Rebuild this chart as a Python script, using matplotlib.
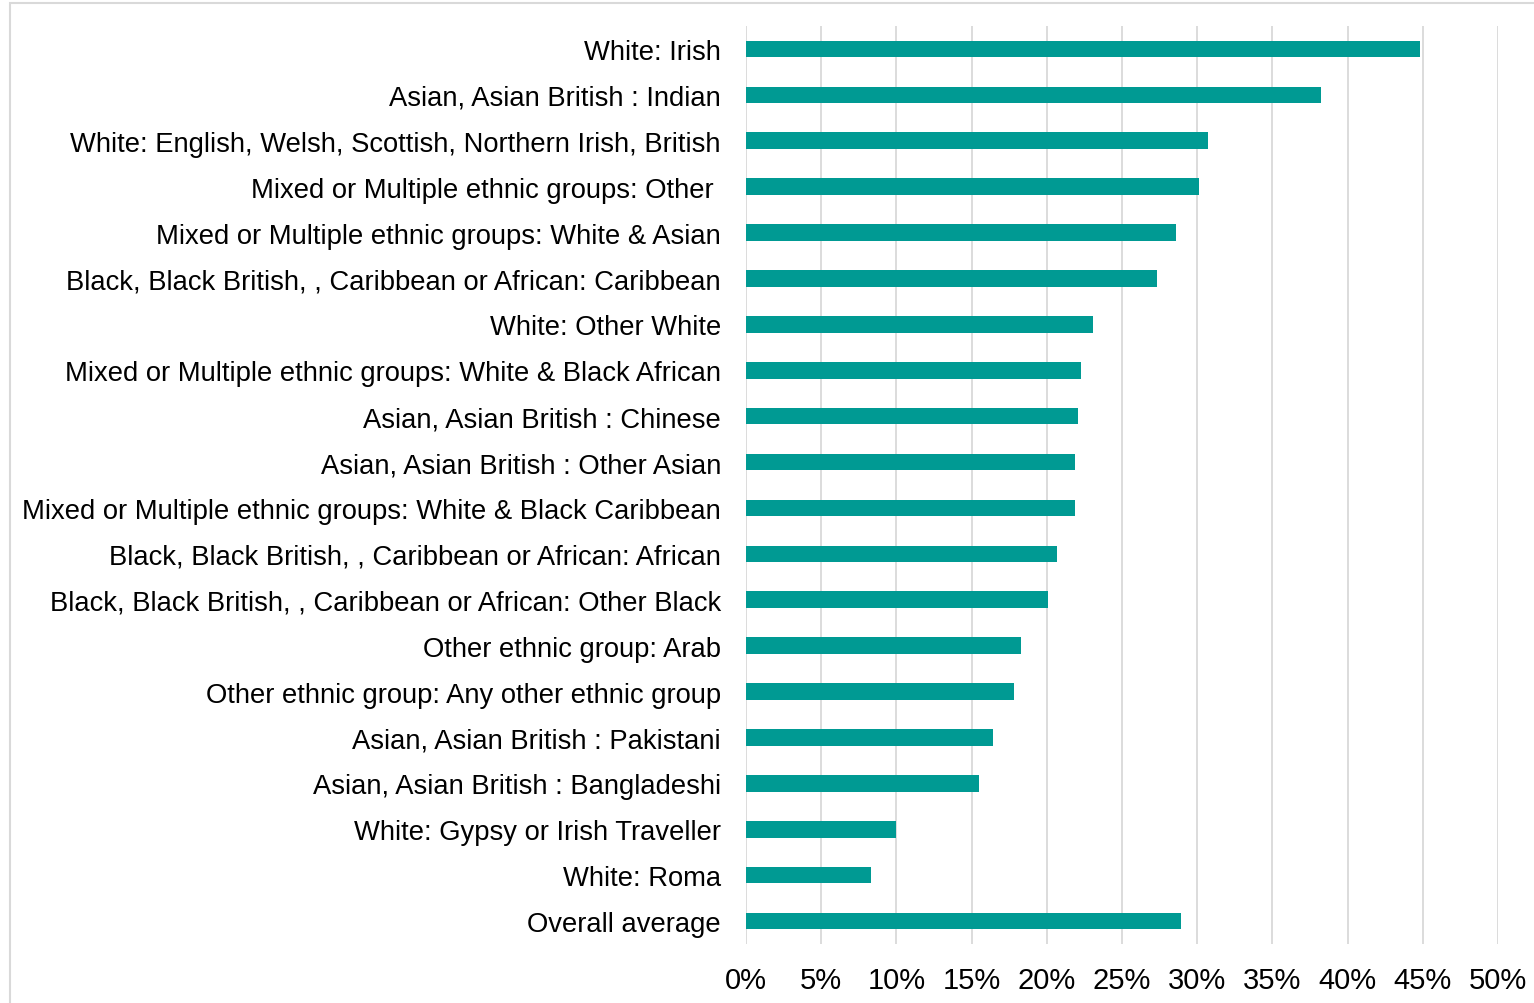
import matplotlib
matplotlib.use("Agg")
import matplotlib.pyplot as plt
from matplotlib.patches import Rectangle
from matplotlib.ticker import FuncFormatter, MultipleLocator

plt.rcParams['font.family'] = ['Liberation Sans', 'DejaVu Sans']

categories = [
    "White: Irish",
    "Asian, Asian British : Indian",
    "White: English, Welsh, Scottish, Northern Irish, British",
    "Mixed or Multiple ethnic groups: Other ",
    "Mixed or Multiple ethnic groups: White & Asian",
    "Black, Black British, , Caribbean or African: Caribbean",
    "White: Other White",
    "Mixed or Multiple ethnic groups: White & Black African",
    "Asian, Asian British : Chinese",
    "Asian, Asian British : Other Asian",
    "Mixed or Multiple ethnic groups: White & Black Caribbean",
    "Black, Black British, , Caribbean or African: African",
    "Black, Black British, , Caribbean or African: Other Black",
    "Other ethnic group: Arab",
    "Other ethnic group: Any other ethnic group",
    "Asian, Asian British : Pakistani",
    "Asian, Asian British : Bangladeshi",
    "White: Gypsy or Irish Traveller",
    "White: Roma",
    "Overall average",
]
values = [44.8, 38.2, 30.7, 30.1, 28.6, 27.3, 23.1, 22.3, 22.1, 21.9,
          21.9, 20.7, 20.1, 18.3, 17.8, 16.4, 15.5, 10.0, 8.3, 28.9]

W, H = 1534, 1004
fig = plt.figure(figsize=(W/100, H/100), dpi=100)
fig.patches.append(Rectangle((9.5/W, -0.1), 1.2, 1.1 - 3.5/H, transform=fig.transFigure,
                             fill=False, edgecolor='#d9d9d9', linewidth=1.5))
ax = fig.add_axes([746/W, 1-945/H, (1498-746)/W, (945-27)/H])

y = list(range(len(categories)))
ax.barh(y, values, height=0.36, color='#009A93', zorder=3)
ax.set_ylim(len(categories)-0.5, -0.5)
ax.set_xlim(0, 50)
ax.xaxis.set_major_locator(MultipleLocator(5))
ax.xaxis.set_major_formatter(FuncFormatter(lambda v, p: f"{v:.0f}%"))
ax.set_yticks(y)
ax.set_yticklabels(categories)
ax.grid(axis='x', color='#d9d9d9', linewidth=1.3, zorder=0)
for s in ax.spines.values():
    s.set_visible(False)
ax.tick_params(axis='y', length=0, pad=18, labelsize=19.7, labelcolor='black')
ax.tick_params(axis='x', length=0, pad=16, labelsize=21, labelcolor='black')

fig.savefig("out.png", dpi=100)
